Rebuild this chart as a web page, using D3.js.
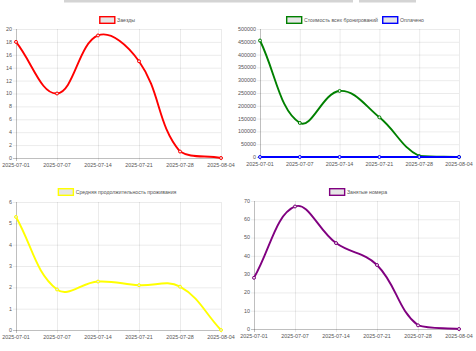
<!DOCTYPE html>
<html>
<head>
<meta charset="utf-8">
<script src="https://cdnjs.cloudflare.com/ajax/libs/d3/7.8.5/d3.min.js"></script>
<style>
  body { margin: 0; background: #fff; }
  svg { display: block; font-family: "Liberation Sans", Arial, sans-serif; }
</style>
</head>
<body>
<svg id="chart" width="476" height="351"></svg>
<script>
// weekly stats, values
const dates = ["2025-07-01", "2025-07-07", "2025-07-14", "2025-07-21", "2025-07-28", "2025-08-04"];
const checkins = [18, 10, 19, 15, 1, 0];
const totalCost = [455000, 133000, 258000, 155000, 4000, 0];
const paid = [0, 0, 0, 0, 0, 0];
const avgStay = [5.3, 1.9, 2.27, 2.1, 2.03, 0];
const occupied = [28, 67, 47, 35, 2, 0];

const svg = d3.select("#chart");
svg.append("rect").attr("width", 476).attr("height", 351).attr("fill", "#fff");

// bits of the tab bar cut off at the top
svg.append("rect").attr("x", 64).attr("y", 0).attr("width", 289).attr("height", 2.5).attr("fill", "#d4d4d4");
svg.append("rect").attr("x", 359).attr("y", 0).attr("width", 57).attr("height", 2.5).attr("fill", "#d4d4d4");

// chart.js style bezier (tension 0.4)
function splinePath(pts, area) {
    let t = 0.4;
    let cps = pts.map((p, i) => {
        let prev = pts[i - 1] || p, next = pts[i + 1] || p;
        let d01 = Math.hypot(p[0] - prev[0], p[1] - prev[1]);
        let d12 = Math.hypot(next[0] - p[0], next[1] - p[1]);
        let s01 = d01 / (d01 + d12), s12 = d12 / (d01 + d12);
        if (isNaN(s01)) s01 = 0;
        if (isNaN(s12)) s12 = 0;
        let fa = t * s01, fb = t * s12;
        let cap = (x, y) => [Math.max(area.left, Math.min(area.right, x)), Math.max(area.top, Math.min(area.bottom, y))];
        return {
            c1: cap(p[0] - fa * (next[0] - prev[0]), p[1] - fa * (next[1] - prev[1])),
            c2: cap(p[0] + fb * (next[0] - prev[0]), p[1] + fb * (next[1] - prev[1]))
        };
    });
    let path = d3.path();
    path.moveTo(pts[0][0], pts[0][1]);
    for (let i = 1; i < pts.length; i++) {
        path.bezierCurveTo(cps[i - 1].c2[0], cps[i - 1].c2[1], cps[i].c1[0], cps[i].c1[1], pts[i][0], pts[i][1]);
    }
    return path.toString();
}

function lineChart(cfg) {
    let area = cfg.area;
    let g = svg.append("g");

    let x = d3.scalePoint().domain(dates).range([area.left, area.right]);
    let y = d3.scaleLinear().domain([0, cfg.max]).range([area.bottom, area.top]);
    let ticks = d3.range(0, cfg.max + cfg.step / 2, cfg.step);

    // grid
    g.selectAll(".hgrid").data(ticks).enter().append("line")
        .attr("x1", area.left - 3).attr("x2", area.right)
        .attr("y1", d => y(d) + 0.5).attr("y2", d => y(d) + 0.5)
        .attr("stroke", d => d == 0 ? "rgba(0,0,0,0.25)" : "rgba(0,0,0,0.08)")
        .attr("stroke-width", 1);

    g.selectAll(".vgrid").data(dates).enter().append("line")
        .attr("x1", d => x(d) + 0.5).attr("x2", d => x(d) + 0.5)
        .attr("y1", area.top).attr("y2", area.bottom + 3)
        .attr("stroke", (d, i) => i == 0 ? "rgba(0,0,0,0.25)" : "rgba(0,0,0,0.08)")
        .attr("stroke-width", 1);

    // tick labels
    g.selectAll(".ylab").data(ticks).enter().append("text")
        .attr("x", area.left - 4).attr("y", d => y(d) + 1.9)
        .attr("text-anchor", "end")
        .attr("font-size", 5.4).attr("fill", "#555")
        .text(d => d);

    g.selectAll(".xlab").data(dates).enter().append("text")
        .attr("x", d => x(d)).attr("y", area.bottom + 9)
        .attr("text-anchor", "middle")
        .attr("font-size", 5.4).attr("fill", "#555")
        .text(d => d);

    // series
    cfg.series.forEach(s => {
        let pts = s.values.map((v, i) => [x(dates[i]), y(v)]);
        g.append("path")
            .attr("d", splinePath(pts, area))
            .attr("fill", "none")
            .attr("stroke", s.color)
            .attr("stroke-width", 1.9);
        g.selectAll(null).data(pts).enter().append("circle")
            .attr("cx", d => d[0]).attr("cy", d => d[1]).attr("r", 1.5)
            .attr("fill", "#e6e6e6").attr("stroke", s.color).attr("stroke-width", 1);
    });

    // legend, centered
    let lg = g.append("g");
    let cursor = 0;
    cfg.series.forEach(s => {
        lg.append("rect")
            .attr("x", cursor + 0.7).attr("y", -3.3)
            .attr("width", 15).attr("height", 6.6)
            .attr("fill", "#e6e6e6").attr("stroke", s.color).attr("stroke-width", 1.4);
        let txt = lg.append("text")
            .attr("x", cursor + 18).attr("y", 1.9)
            .attr("font-size", 5.2).attr("fill", "#555")
            .text(s.name);
        cursor += 18 + txt.node().getComputedTextLength() + 4;
    });
    cursor -= 4;
    lg.attr("transform", "translate(" + (cfg.legendX - cursor / 2) + "," + cfg.legendY + ")");
}

lineChart({
    area: { left: 16, right: 221, top: 29, bottom: 158 },
    max: 20, step: 2, legendX: 117, legendY: 20,
    series: [{ name: "Заезды", color: "red", values: checkins }]
});

lineChart({
    area: { left: 260, right: 459, top: 29, bottom: 157 },
    max: 500000, step: 50000, legendX: 355, legendY: 20,
    series: [
        { name: "Стоимость всех бронирований", color: "green", values: totalCost },
        { name: "Оплачено", color: "blue", values: paid }
    ]
});

lineChart({
    area: { left: 16, right: 221, top: 202, bottom: 330 },
    max: 6, step: 1, legendX: 117, legendY: 192,
    series: [{ name: "Средняя продолжительность проживания", color: "yellow", values: avgStay }]
});

lineChart({
    area: { left: 254, right: 459, top: 201, bottom: 329 },
    max: 70, step: 10, legendX: 358, legendY: 192,
    series: [{ name: "Занятые номера", color: "purple", values: occupied }]
});
</script>
</body>
</html>
